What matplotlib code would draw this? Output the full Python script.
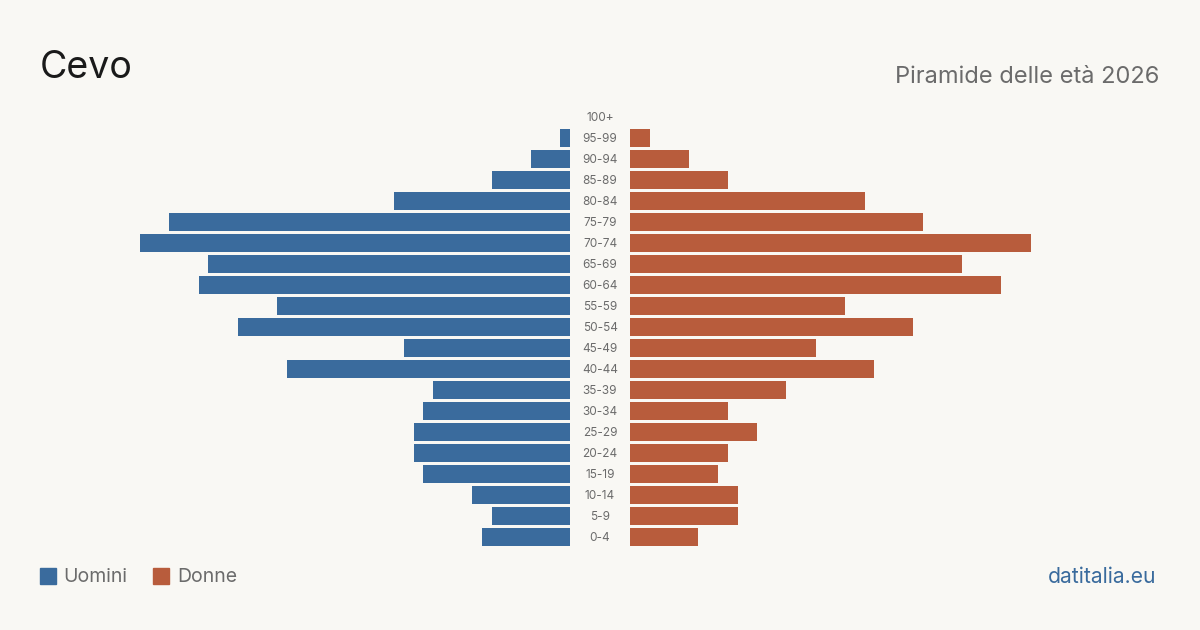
import matplotlib
matplotlib.use("Agg")
import matplotlib.pyplot as plt
from matplotlib.patches import Rectangle

age_groups = ["0-4", "5-9", "10-14", "15-19", "20-24", "25-29", "30-34", "35-39",
              "40-44", "45-49", "50-54", "55-59", "60-64", "65-69", "70-74", "75-79",
              "80-84", "85-89", "90-94", "95-99", "100+"]
men = [9, 8, 10, 15, 16, 16, 15, 14, 29, 17, 34, 30, 38, 37, 44, 41, 18, 8, 4, 1, 0]
women = [7, 11, 11, 9, 10, 13, 10, 16, 25, 19, 29, 22, 38, 34, 41, 30, 24, 10, 6, 2, 0]

BG = "#f9f8f4"
BLUE = "#3a6b9d"
ORANGE = "#b85c3c"
W, H = 1200, 630

plt.rcParams['font.family'] = ['Inter', 'DejaVu Sans']
fig = plt.figure(figsize=(12, 6.3), dpi=100, facecolor=BG)

def fx(px):
    return px / W

def fy(py):
    return 1 - py / H

px_per_unit = 9.773
half_w = 470
xmax = half_w / px_per_unit
top_px, bot_px = 106.5, 547.5

axL = fig.add_axes([fx(570 - half_w), fy(bot_px), half_w / W, (bot_px - top_px) / H])
axR = fig.add_axes([fx(630), fy(bot_px), half_w / W, (bot_px - top_px) / H])
ys = list(range(len(age_groups)))
axL.barh(ys, men, height=0.81, color=BLUE)
axR.barh(ys, women, height=0.81, color=ORANGE)
axL.set_xlim(xmax, 0)
axR.set_xlim(0, xmax)
for ax in (axL, axR):
    ax.set_ylim(-0.5, len(age_groups) - 0.5)
    ax.axis("off")
    ax.set_facecolor("none")

for i, lab in enumerate(age_groups):
    ypx = 538 - 21 * i
    fig.text(fx(600), fy(ypx), lab, ha="center", va="center", fontsize=8.5, color="#6b6b6b")

fig.text(fx(40), fy(68), "Cevo", ha="left", va="center", fontsize=27, color="#1a1a1a")
fig.text(fx(1159), fy(77), "Piramide delle età 2026", ha="right", va="center", fontsize=17, color="#6b6b6b")

fig.patches.append(Rectangle((fx(40), fy(584)), 16 / W, 16 / H, transform=fig.transFigure, color=BLUE))
fig.text(fx(63), fy(577), "Uomini", ha="left", va="center", fontsize=14, color="#6b6b6b")
fig.patches.append(Rectangle((fx(153), fy(584)), 16 / W, 16 / H, transform=fig.transFigure, color=ORANGE))
fig.text(fx(177), fy(577), "Donne", ha="left", va="center", fontsize=14, color="#6b6b6b")
fig.text(fx(1156), fy(577), "datitalia.eu", ha="right", va="center", fontsize=15.2, color=BLUE)

fig.savefig("out.png", dpi=100, facecolor=BG)
